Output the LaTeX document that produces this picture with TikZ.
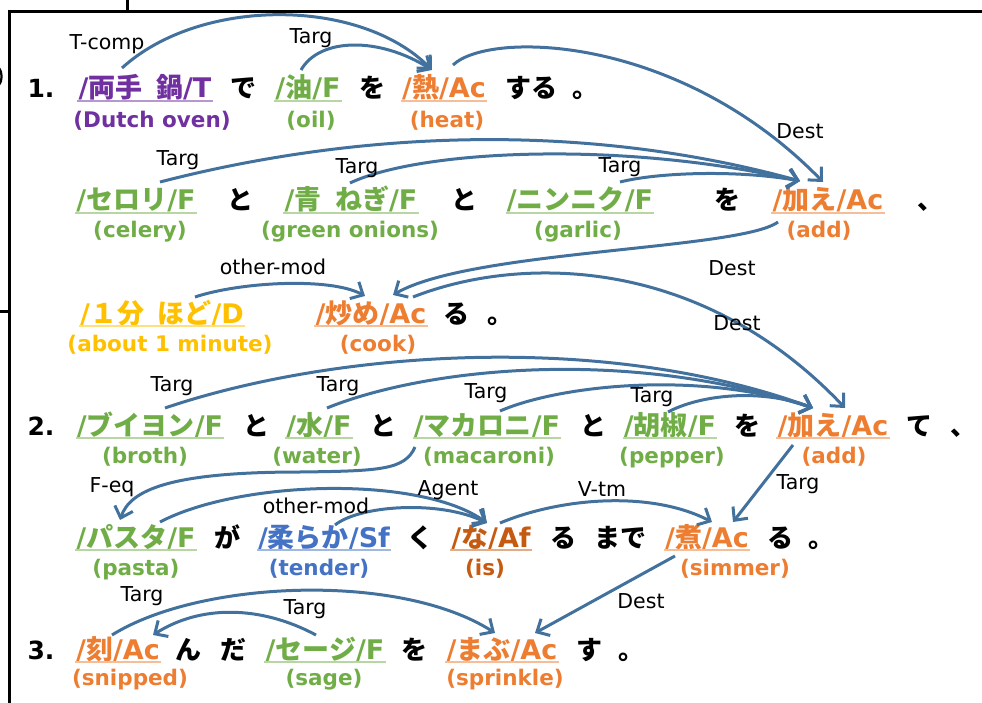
\documentclass[tikz,border=0pt]{standalone}
\usepackage{fontspec}
\setmainfont{DejaVu Sans}
\newfontfamily\jpf{Noto Sans CJK JP}
\usetikzlibrary{arrows.meta,calc}
\newcommand\J[1]{{\jpf #1}}
\definecolor{cgreen}{HTML}{70AD47}
\definecolor{corange}{HTML}{ED7D31}
\definecolor{cpurple}{HTML}{7030A0}
\definecolor{cyellow}{HTML}{FFC000}
\definecolor{cblue}{HTML}{4472C4}
\definecolor{cdorange}{HTML}{C55A11}
\definecolor{arr}{RGB}{65,113,156}
\begin{document}
\begin{tikzpicture}[x=1pt,y=-1pt,
 jterm/.style={anchor=base, inner sep=0pt, inner xsep=1pt, text=#1, font=\fontsize{27}{27}\selectfont\bfseries},
 gloss/.style={anchor=base, inner sep=0pt, text=#1, font=\fontsize{21.5}{21.5}\selectfont\bfseries},
 part/.style={anchor=base, inner sep=0pt, font=\fontsize{26}{26}\selectfont\bfseries\jpf},
 punct/.style={anchor=base west, inner sep=0pt, font=\fontsize{26}{26}\selectfont\bfseries\jpf},
 num/.style={anchor=base, inner sep=0pt, font=\fontsize{25}{25}\selectfont\bfseries},
 lbl/.style={inner sep=0pt, font=\fontsize{20.5}{20.5}\selectfont},
 ul/.style={draw=#1!50, line width=1.5pt},
 rel/.style={draw=arr, line width=3pt, -{Straight Barb[length=10pt,width=19pt]}},
 frame/.style={draw=black, line width=3pt}
]
\useasboundingbox (0,0) rectangle (982,703);
\clip (0,0) rectangle (982,703);

% frame
\draw[frame] (9.5,703) -- (9.5,11.5) -- (982,11.5);
\draw[frame] (127.5,0) -- (127.5,11.5);
\draw[frame] (0,311.5) -- (9.5,311.5);
\draw[line width=2.2pt] (-1,68) .. controls (2.5,72) and (2.5,81) .. (-1,85);

% ---------- row 1
\node[num] (num1) at (41,98) {1.};
\node[jterm=cpurple] (t1) at (145,98) {/\J{両手}\hspace{.5em}\J{鍋}/T};
\node[part] (de1) at (243,98) {で};
\node[jterm=cgreen] (oil) at (308,98) {/\J{油}/F};
\node[part] (wo1) at (372,98) {を};
\node[jterm=corange] (heat) at (444,98) {/\J{熱}/Ac};
\node[part] (suru) at (531,98) {する};
\node[punct] (maru1) at (572,98) {。};
\node[gloss=cpurple] (t1E) at (152,128) {(Dutch oven)};
\node[gloss=cgreen] (oilE) at (311,128) {(oil)};
\node[gloss=corange] (heatE) at (447,128) {(heat)};

% ---------- row 2
\node[jterm=cgreen] (celery) at (136,210) {/\J{セロリ}/F};
\node[part] (to2a) at (240,210) {と};
\node[jterm=cgreen] (onion) at (351,210) {/\J{青}\hspace{.5em}\J{ねぎ}/F};
\node[part] (to2b) at (464,210) {と};
\node[jterm=cgreen] (garlic) at (580,210) {/\J{ニンニク}/F};
\node[part] (wo2) at (727,210) {を};
\node[jterm=corange] (add1) at (828,210) {/\J{加え}/Ac};
\node[punct] (ten2) at (917,210) {、};
\node[gloss=cgreen] (celeryE) at (140,238) {(celery)};
\node[gloss=cgreen] (onionE) at (350,238) {(green onions)};
\node[gloss=cgreen] (garlicE) at (578,238) {(garlic)};
\node[gloss=corange] (add1E) at (819,238) {(add)};

% ---------- row 3
\node[jterm=cyellow] (min) at (162,323) {/\J{１分}\hspace{.5em}\J{ほど}/D};
\node[jterm=corange] (cook) at (371,323) {/\J{炒め}/Ac};
\node[part] (ru3) at (456,323) {る};
\node[punct] (maru3) at (487,323) {。};
\node[gloss=cyellow] (minE) at (170,351) {(about 1 minute)};
\node[gloss=corange] (cookE) at (378,351) {(cook)};

% ---------- row 4
\node[num] (num2) at (41,435) {2.};
\node[jterm=cgreen] (broth) at (150,435) {/\J{ブイヨン}/F};
\node[part] (to4a) at (256,435) {と};
\node[jterm=cgreen] (water) at (319,435) {/\J{水}/F};
\node[part] (to4b) at (383,435) {と};
\node[jterm=cgreen] (mac) at (487,435) {/\J{マカロニ}/F};
\node[part] (to4c) at (593,435) {と};
\node[jterm=cgreen] (pepper) at (670,435) {/\J{胡椒}/F};
\node[part] (wo4) at (747,435) {を};
\node[jterm=corange] (add2) at (833,435) {/\J{加え}/Ac};
\node[part] (te) at (919,435) {て};
\node[punct] (ten4) at (950,435) {、};
\node[gloss=cgreen] (brothE) at (145,463) {(broth)};
\node[gloss=cgreen] (waterE) at (317,463) {(water)};
\node[gloss=cgreen] (macE) at (489,463) {(macaroni)};
\node[gloss=cgreen] (pepperE) at (672,463) {(pepper)};
\node[gloss=corange] (add2E) at (834,463) {(add)};

% ---------- row 5
\node[jterm=cgreen] (pasta) at (136,547) {/\J{パスタ}/F};
\node[part] (ga) at (227,547) {が};
\node[jterm=cblue] (soft) at (324,547) {/\J{柔らか}/Sf};
\node[part] (ku) at (420,547) {く};
\node[jterm=cdorange] (na) at (491,547) {/\J{な}/Af};
\node[part] (ru5) at (563,547) {る};
\node[part] (made) at (620,547) {まで};
\node[jterm=corange] (ni) at (707,547) {/\J{煮}/Ac};
\node[part] (ru5b) at (780,547) {る};
\node[punct] (maru5) at (808,547) {。};
\node[gloss=cgreen] (pastaE) at (136,575) {(pasta)};
\node[gloss=cblue] (softE) at (319,575) {(tender)};
\node[gloss=cdorange] (naE) at (485,575) {(is)};
\node[gloss=corange] (niE) at (735,575) {(simmer)};

% ---------- row 6
\node[num] (num3) at (41,659) {3.};
\node[jterm=corange] (snip) at (118,659) {/\J{刻}/Ac};
\node[part] (n6) at (188,659) {ん};
\node[part] (da) at (233,659) {だ};
\node[jterm=cgreen] (sage) at (325,659) {/\J{セージ}/F};
\node[part] (wo6) at (414,659) {を};
\node[jterm=corange] (spr) at (502,659) {/\J{まぶ}/Ac};
\node[part] (su) at (589,659) {す};
\node[punct] (maru6) at (618,659) {。};
\node[gloss=corange] (snipE) at (130,685) {(snipped)};
\node[gloss=cgreen] (sageE) at (324,685) {(sage)};
\node[gloss=corange] (sprE) at (505,685) {(sprinkle)};

% underlines
\foreach \n/\c in {t1/cpurple, oil/cgreen, heat/corange, celery/cgreen, onion/cgreen,
  garlic/cgreen, add1/corange, min/cyellow, cook/corange, broth/cgreen, water/cgreen,
  mac/cgreen, pepper/cgreen, add2/corange, pasta/cgreen, soft/cblue, na/cdorange,
  ni/corange, snip/corange, sage/cgreen, spr/corange}
  \draw[ul=\c] ([yshift=-3pt]\n.base west) -- ([yshift=-3pt]\n.base east);

% ---------- relations
\draw[rel] ($(t1.base)+(-23,-30)$) .. controls (200,-3) and (360,-3) .. ($(heat.base)+(-12,-28)$);
\draw[rel] ($(oil.base)+(-7,-28)$) .. controls (320,37) and (380,37) .. ($(heat.base)+(-12,-28)$);
\draw[rel] ($(heat.base)+(9,-33)$) .. controls (490,30) and (680,35) .. ($(add1.base)+(-5,-28)$);
\draw[rel] ($(celery.base)+(24,-28)$) .. controls (330,138) and (560,115) .. ($(add1.base)+(-28,-29)$);
\draw[rel] ($(onion.base)+(-1,-27)$) .. controls (420,150) and (620,140) .. ($(add1.base)+(-28,-29)$);
\draw[rel] ($(garlic.base)+(40,-28)$) .. controls (660,172) and (740,170) .. ($(add1.base)+(-28,-29)$);
\draw[rel] ($(add1.base)+(-50,12)$) .. controls (740,250) and (470,250) .. ($(cook.base)+(22,-28)$);
\draw[rel] ($(min.base)+(33,-26)$) .. controls (240,282) and (330,277) .. ($(cook.base)+(-6,-27)$);
\draw[rel] ($(cook.base)+(42,-26)$) .. controls (520,255) and (700,255) .. ($(add2.base)+(12,-27)$);
\draw[rel] ($(broth.base)+(15,-27)$) .. controls (330,352) and (600,330) .. ($(add2.base)+(-20,-27)$);
\draw[rel] ($(water.base)+(8,-27)$) .. controls (420,370) and (620,345) .. ($(add2.base)+(-20,-27)$);
\draw[rel] ($(mac.base)+(13,-24)$) .. controls (560,385) and (700,370) .. ($(add2.base)+(-20,-27)$);
\draw[rel] ($(pepper.base)+(-2,-23)$) .. controls (700,395) and (760,388) .. ($(add2.base)+(-20,-27)$);
\draw[rel] ($(mac.base)+(-72,12)$) .. controls (405,470) and (380,471) .. (300,472)
   .. controls (170,472) and (130,490) .. ($(pasta.base)+(-16,-27)$);
\draw[rel] ($(pasta.base)+(24,-25)$) .. controls (240,480) and (420,475) .. ($(na.base)+(-4,-24)$);
\draw[rel] ($(soft.base)+(11,-22)$) .. controls (360,505) and (440,500) .. ($(na.base)+(-4,-24)$);
\draw[rel] ($(na.base)+(9,-24)$) .. controls (560,498) and (650,490) .. ($(ni.base)+(5,-25)$);
\draw[rel] ($(add2.base)+(-40,10)$) -- ($(ni.base)+(26,-25)$);
\draw[rel] ($(ni.base)+(-32,9)$) -- ($(spr.base)+(33,-26)$);
\draw[rel] ($(snip.base)+(-6,-24)$) .. controls (200,580) and (400,572) .. ($(spr.base)+(-7,-26)$);
\draw[rel] ($(sage.base)+(-9,-24)$) .. controls (260,605) and (200,605) .. ($(snip.base)+(35,-24)$);

% ---------- relation labels
\node[lbl] (l1) at (107,44) {T-comp};
\node[lbl] (l2) at (311,38) {Targ};
\node[lbl] (l3) at (800,131) {Dest};
\node[lbl] (l4) at (178,160) {Targ};
\node[lbl] (l5) at (357,168) {Targ};
\node[lbl] (l6) at (620,167) {Targ};
\node[lbl] (l7) at (732,268) {Dest};
\node[lbl] (l8) at (273,267) {other-mod};
\node[lbl] (l9) at (737,323) {Dest};
\node[lbl] (l10) at (172,386) {Targ};
\node[lbl] (l11) at (338,386) {Targ};
\node[lbl] (l12) at (486,393) {Targ};
\node[lbl] (l13) at (652,397) {Targ};
\node[lbl] (l14) at (112,487) {F-eq};
\node[lbl] (l15) at (316,506) {other-mod};
\node[lbl] (l16) at (448,490) {Agent};
\node[lbl] (l17) at (602,489) {V-tm};
\node[lbl] (l18) at (798,484) {Targ};
\node[lbl] (l19) at (641,601) {Dest};
\node[lbl] (l20) at (142,596) {Targ};
\node[lbl] (l21) at (305,609) {Targ};
\end{tikzpicture}
\end{document}
